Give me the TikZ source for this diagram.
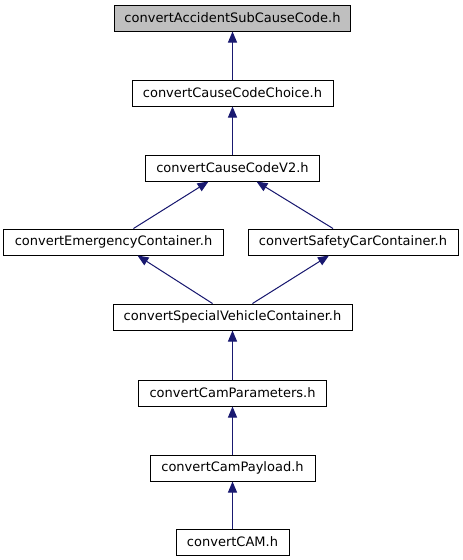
\documentclass[tikz,border=0pt]{standalone}
\usepackage{fontspec}
\setmainfont{DejaVu Sans}
\usetikzlibrary{arrows.meta, calc}
\definecolor{edgecolor}{RGB}{25,25,112}
\definecolor{rootfill}{RGB}{191,191,191}

\begin{document}
\begin{tikzpicture}[
    x=1pt, y=-1pt,
    hdr/.style={rectangle, draw, line width=1pt, minimum height=26pt, inner sep=0pt, font=\fontsize{13pt}{15pt}\selectfont, fill=white},
    edge/.style={{Triangle[length=11pt,width=9pt]}-, draw=edgecolor, fill=edgecolor, line width=1pt}
]
\useasboundingbox (0,0) rectangle (463,560);

\node[hdr, fill=rootfill, minimum width=236pt] (acc) at (232.5,18) {convertAccidentSubCauseCode.h};
\node[hdr, minimum width=201pt] (choice) at (232.5,93) {convertCauseCodeChoice.h};
\node[hdr, minimum width=174pt] (v2) at (232.5,168) {convertCauseCodeV2.h};
\node[hdr, minimum width=220pt] (emg) at (113.5,242) {convertEmergencyContainer.h};
\node[hdr, minimum width=210pt] (safe) at (353,242) {convertSafetyCarContainer.h};
\node[hdr, minimum width=239pt] (spec) at (232.5,317) {convertSpecialVehicleContainer.h};
\node[hdr, minimum width=188pt] (par) at (232.5,393) {convertCamParameters.h};
\node[hdr, minimum width=165pt] (pay) at (232.5,468) {convertCamPayload.h};
\node[hdr, minimum width=113pt] (cam) at (232.5,542) {convertCAM.h};

\draw[edge] (acc.south) -- (choice.north);
\draw[edge] (choice.south) -- (v2.north);
\draw[edge] ($(v2.south)+(-24,0)$) -- ($(emg.north)+(20,0)$);
\draw[edge] ($(v2.south)+(24,0)$) -- ($(safe.north)+(-20,0)$);
\draw[edge] ($(emg.south)+(24,0)$) -- ($(spec.north)+(-20,0)$);
\draw[edge] ($(safe.south)+(-24,0)$) -- ($(spec.north)+(20,0)$);
\draw[edge] (spec.south) -- (par.north);
\draw[edge] (par.south) -- (pay.north);
\draw[edge] (pay.south) -- (cam.north);
\end{tikzpicture}
\end{document}
